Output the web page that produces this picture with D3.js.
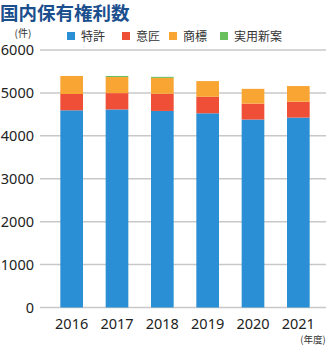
<!DOCTYPE html>
<html lang="ja">
<head>
<meta charset="utf-8">
<title>国内保有権利数</title>
<script src="https://cdn.jsdelivr.net/npm/d3@7/dist/d3.min.js"></script>
<style>
  body { margin: 0; background: #fff; font-family: "Noto Sans CJK JP", "Noto Sans", sans-serif; }
</style>
</head>
<body>
<script>
// fiscal years and holdings per right type
var years = ["2016", "2017", "2018", "2019", "2020", "2021"];
var patents = [4595, 4615, 4580, 4525, 4380, 4425];
var designs = [380, 380, 400, 385, 370, 370];
var trademarks = [420, 375, 370, 365, 345, 365];
var utilityModels = [0, 25, 25, 0, 0, 0];
var seriesNames = ["特許", "意匠", "商標", "実用新案"];
var colors = ["#2a8fd4", "#ef4e37", "#f9a533", "#6cbf5f"];
var yTicks = [0, 1000, 2000, 3000, 4000, 5000, 6000];

var W = 331, H = 345;
var svg = d3.select("body").append("svg").attr("width", W).attr("height", H);

var rows = years.map(function (y, i) {
  return { year: y, s0: patents[i], s1: designs[i], s2: trademarks[i], s3: utilityModels[i] };
});
var stack = d3.stack().keys(["s0", "s1", "s2", "s3"])(rows);

var x = d3.scaleBand().domain(years).range([49, 321]).paddingInner(0.5).paddingOuter(0.25);
var y = d3.scaleLinear().domain([0, 6000]).range([307.5, 50]);

// title
svg.append("text").attr("x", 0).attr("y", 20)
  .attr("font-size", 18.5).attr("font-weight", "bold").attr("fill", "#1b4f8e")
  .text("国内保有権利数");

// unit label
svg.append("text").attr("x", 23).attr("y", 37).attr("text-anchor", "middle")
  .attr("font-size", 10).attr("fill", "#333").text("(件)");

// gridlines + y labels
var yAxis = svg.append("g");
yAxis.selectAll("line").data(yTicks).enter().append("line")
  .attr("x1", 40).attr("x2", 326)
  .attr("y1", function (d) { return y(d); }).attr("y2", function (d) { return y(d); })
  .attr("stroke", "#c8c8c8").attr("stroke-width", 1.5);
yAxis.selectAll("text").data(yTicks).enter().append("text")
  .attr("x", 34).attr("y", function (d) { return y(d) + 5; })
  .attr("text-anchor", "end").attr("font-size", 14.5).attr("fill", "#222")
  .attr("font-family", "Noto Sans, sans-serif")
  .text(function (d) { return d; });

// stacked bars
svg.selectAll("g.layer").data(stack).enter().append("g").attr("class", "layer")
  .attr("fill", function (d, i) { return colors[i]; })
  .selectAll("rect").data(function (d) { return d; }).enter().append("rect")
  .attr("x", function (d) { return x(d.data.year); })
  .attr("width", x.bandwidth())
  .attr("y", function (d) { return y(d[1]); })
  .attr("height", function (d) { return y(d[0]) - y(d[1]); });

// x labels
svg.selectAll("text.year").data(years).enter().append("text").attr("class", "year")
  .attr("x", function (d) { return x(d) + x.bandwidth() / 2; }).attr("y", 329)
  .attr("text-anchor", "middle").attr("font-size", 14.5).attr("fill", "#222")
  .attr("font-family", "Noto Sans, sans-serif")
  .text(function (d) { return d; });

svg.append("text").attr("x", 313).attr("y", 342.5).attr("text-anchor", "middle")
  .attr("font-size", 9.5).attr("fill", "#333").text("(年度)");

// legend
var legendX = [67, 122, 169, 220];
var lg = svg.selectAll("g.legend").data(seriesNames).enter().append("g").attr("class", "legend")
  .attr("transform", function (d, i) { return "translate(" + legendX[i] + ",32)"; });
lg.append("rect").attr("width", 8).attr("height", 8).attr("fill", function (d, i) { return colors[i]; });
lg.append("text").attr("x", 14).attr("y", 8.5).attr("font-size", 12).attr("fill", "#333")
  .text(function (d) { return d; });
</script>
</body>
</html>
